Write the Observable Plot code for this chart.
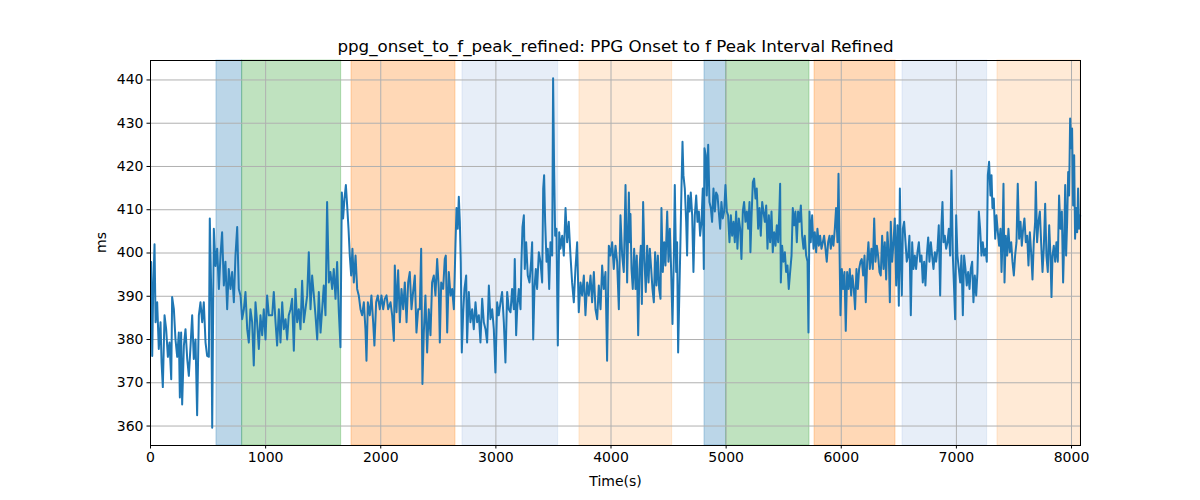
<!DOCTYPE html>
<html>
<head>
<meta charset="utf-8">
<script src="https://cdn.jsdelivr.net/npm/d3@7"></script>
<script src="https://cdn.jsdelivr.net/npm/@observablehq/plot@0.6"></script>
<style>
  html, body { margin: 0; padding: 0; background: #fff; }
  svg { display: block; }
</style>
</head>
<body>
<script>
const titleText = "ppg_onset_to_f_peak_refined: PPG Onset to f Peak Interval Refined";
const xLabel = "Time(s)";
const yLabel = "ms";
const xTicks = [0, 1000, 2000, 3000, 4000, 5000, 6000, 7000, 8000];
const yTicks = [360, 370, 380, 390, 400, 410, 420, 430, 440];

// shaded phases: start, end, colour
const spanStart = [573, 796, 1746, 2710, 3726, 4812, 5000, 5768, 6532, 7357];
const spanEnd   = [796, 1656, 2649, 3541, 4531, 5000, 5724, 6471, 7267, 8078];
const spanColor = ["#1f77b4", "#2ca02c", "#ff7f0e", "#aec7e8", "#ffbb78",
                   "#1f77b4", "#2ca02c", "#ff7f0e", "#aec7e8", "#ffbb78"];

// [time (s), interval (ms)]
const part1 = [[6,397.9],[15,376.2],[23,391],[35,402],[44,384],[58,388.6],[72,377.8],[87,384],[96,374.7],[107,369],[122,385.6],[136,382.4],[151,376],[165,379.3],[180,370.8],[188,389.8],[203,387],[217,380],[232,376],[246,381.6],[255,366.6],[266,381.6],[275,365],[290,378.6],[304,382.4],[319,375.5],[333,371.6],[348,378.6],[362,385.6],[376,375.5],[391,380],[405,362.5],[420,385.6],[434,388.6],[449,384],[463,388.6],[478,379.3],[492,376.2],[507,376],[515,408],[527,391.7],[536,359.6],[550,405.6],[565,397],[579,401],[594,391.7],[608,399.4],[622,404.8],[637,392.5],[651,398],[666,387],[680,396.3],[695,391.7],[709,395.6],[724,388.6],[738,399.4],[753,406],[767,391.7],[782,390.2],[796,384.7],[811,387],[825,391],[840,382.4],[854,379.3],[868,387],[883,384],[897,374],[912,388.6],[926,384],[941,377.8],[955,385.6],[970,381],[984,387],[999,380],[1013,390.2],[1028,385.6]];
const part2 = [[1057,385.6],[1071,391],[1086,384],[1100,378.6],[1115,387],[1129,379.3],[1144,388.6],[1158,382.4],[1173,384.7],[1187,380],[1201,385.6],[1216,387],[1230,389.4],[1245,377.4],[1259,391.7],[1274,384],[1288,387],[1303,382.4],[1317,393.6],[1332,384],[1346,387],[1361,390.2],[1375,400.2],[1390,387],[1404,394.8],[1419,390.2],[1433,385.6],[1448,380],[1462,391],[1477,381.6],[1491,387],[1505,392.5],[1520,385.6],[1534,411.8],[1549,393.2],[1563,395.6],[1578,391.7],[1592,396.3],[1607,389.4],[1621,397.9],[1636,386.3],[1650,378.2],[1662,414],[1673,408],[1685,412.6],[1697,415.7],[1708,411],[1720,405.6],[1731,399.4],[1743,394.8],[1754,401],[1766,393.2],[1781,399.4],[1795,391.7],[1809,390.2],[1824,387],[1838,385.6],[1853,388.6],[1867,382.4],[1876,375.1],[1888,388.6],[1905,385.6],[1919,390.2],[1934,384],[1945,378.6],[1960,388.6],[1974,390.2],[1992,387],[2006,390.2],[2021,387],[2035,389.4],[2050,390.2],[2064,387]];
const part3 = [[2085,388.6],[2099,385.6],[2114,379.7],[2122,397.1],[2137,386.3],[2151,396],[2166,384],[2180,391.7],[2195,387],[2209,393.2],[2224,384],[2238,393.2],[2252,395.6],[2267,387],[2281,391],[2296,394.8],[2310,381.6],[2325,387],[2339,387],[2351,401],[2362,369.7],[2374,381.6],[2388,390.2],[2403,377],[2417,387],[2432,381],[2446,393.2],[2461,394.8],[2475,390.2],[2490,398.6],[2504,391.7],[2513,379.3],[2525,393.2],[2542,391.7],[2556,398.6],[2565,399.4],[2577,381.6],[2591,395.6],[2606,390.2],[2620,391.7],[2635,387],[2649,402],[2658,410.4],[2669,405.6],[2678,413],[2687,407.2],[2695,398],[2704,377],[2716,386.3],[2727,391.7],[2742,394.8],[2750,379.3],[2765,391],[2779,384],[2794,387],[2808,382.4],[2823,388.6],[2837,384],[2852,385.6],[2866,379.3],[2881,389.4],[2895,384],[2910,382.4],[2924,379.3],[2939,392.5],[2953,384.7],[2968,387],[2982,382.4],[2996,372.4],[3011,388.6],[3025,385.6],[3040,388.6],[3054,391],[3069,384],[3083,374.7],[3098,391],[3112,387]];
const part4 = [[3127,386.3],[3141,391.7],[3156,387],[3164,398.6],[3176,381],[3185,387],[3199,391.7],[3214,387],[3222,398],[3231,406],[3243,408.7],[3251,396.3],[3263,402.5],[3277,394.8],[3292,393.2],[3306,398],[3315,402.5],[3324,380],[3335,391.7],[3347,396.3],[3358,391.7],[3373,400.2],[3387,398],[3402,393.2],[3411,414.9],[3419,418],[3428,407.2],[3440,398],[3451,401],[3463,391.7],[3474,402.5],[3489,399.4],[3497,440.4],[3506,418.7],[3515,404],[3526,405.6],[3538,378.6],[3550,404.8],[3561,401],[3576,404],[3590,399.4],[3605,410.4],[3619,402.5],[3633,407.2],[3648,399.4],[3662,393.2],[3677,388.6],[3691,396.3],[3706,402.5],[3720,386.3],[3735,393.2],[3749,390.2],[3764,394.8],[3778,385.6],[3793,393.2],[3807,390.2],[3822,394.8],[3836,388.6],[3851,395.6],[3865,387],[3880,384.7],[3894,392.5],[3909,387],[3923,397.1],[3937,391.7],[3952,395.6],[3966,375.1],[3981,401.7],[3995,399.4],[4010,402.5],[4024,396.3],[4039,401.7],[4053,398],[4068,387],[4082,408.7],[4097,399.4],[4111,395.6],[4126,415.7],[4140,393.2],[4155,414]];
const part5 = [[4163,402.5],[4169,409],[4178,396.3],[4189,391.7],[4201,401],[4213,391.7],[4224,399.4],[4236,381],[4247,396.3],[4259,401.7],[4268,388.2],[4279,411.8],[4291,398],[4302,391],[4314,401.7],[4326,393.2],[4337,401],[4349,396.3],[4360,391.7],[4372,388.6],[4383,400.2],[4395,392.5],[4407,399.4],[4418,391.7],[4430,389.4],[4438,410.4],[4450,395.6],[4462,402.5],[4473,397.1],[4488,409.6],[4499,398],[4511,405.6],[4522,396.3],[4534,383.6],[4546,399.4],[4554,415.7],[4566,395.6],[4574,402.5],[4583,377],[4595,392.5],[4603,402.5],[4612,414.9],[4621,425.7],[4629,418],[4641,414.9],[4653,407.2],[4661,399.4],[4670,413.3],[4682,409.6],[4693,414],[4705,408.7],[4716,395.6],[4728,408.7],[4740,413.3],[4751,407.2],[4763,409.6],[4774,404],[4786,407.2],[4797,414.9],[4806,396.3],[4812,424.2],[4823,422.6],[4832,413.3],[4844,425],[4855,411.8],[4867,410.4],[4878,407.2],[4890,414.9],[4902,409.6],[4913,414],[4925,413.3],[4936,409.6],[4948,405.6],[4959,411.8],[4971,408],[4983,409.6],[4994,415.7],[5006,409.6],[5017,408.7],[5029,402.5],[5041,408.7],[5052,404],[5064,407.2],[5075,402.5],[5087,409.6],[5098,401],[5110,408],[5122,405.6],[5133,398.6],[5145,409.6],[5156,411.8],[5168,407.2],[5180,409.6],[5191,405.6],[5203,411.8]];
const part6 = [[5211,400.2],[5220,408],[5232,416.4],[5243,417.2],[5255,412.6],[5266,414.9],[5278,405.6],[5290,410.4],[5301,404],[5313,411.8],[5324,409.6],[5336,407.2],[5348,411],[5359,401],[5371,408.7],[5382,402.5],[5394,409.6],[5405,400.2],[5417,404.8],[5429,401.7],[5440,406.4],[5452,402.5],[5463,410.4],[5469,416],[5475,393.2],[5486,401.7],[5498,398],[5510,400.2],[5521,395.6],[5533,397.1],[5544,391.7],[5556,395.6],[5568,399.4],[5579,410.4],[5591,406.4],[5602,409.6],[5614,402.5],[5625,409.6],[5637,407.2],[5649,411],[5660,404],[5672,401],[5683,404],[5695,399.4],[5707,398],[5715,381.6],[5724,409.6],[5735,402.5],[5747,408.7],[5759,401],[5770,404.8],[5782,400.2],[5793,405.6],[5805,401.7],[5816,404],[5828,401],[5840,402.5],[5851,404],[5863,401],[5874,398],[5886,402.5],[5898,404],[5909,401],[5921,404],[5932,401.7],[5944,405.6],[5955,410.4],[5967,402.5],[5976,418.3],[5984,402.5],[5993,385.6],[6005,396.3],[6016,391.7],[6028,395.6],[6039,382],[6051,395.6],[6063,391.7],[6074,396.3],[6086,390.2],[6097,394.8],[6109,391.7],[6120,387],[6132,396.3],[6144,391.7],[6155,396.3],[6167,398],[6178,398.6],[6190,394.8],[6202,399.4],[6213,388.6],[6225,398],[6236,402.5],[6248,396.3]];
const part7 = [[6262,401],[6274,396.3],[6286,408],[6297,398],[6309,401.7],[6320,399.4],[6332,395.6],[6343,394.8],[6355,404],[6367,396.3],[6378,402.5],[6390,393.9],[6401,404.8],[6413,399.4],[6422,388.6],[6430,407.2],[6442,398],[6454,402.5],[6465,408],[6477,392.5],[6488,406.4],[6500,387.8],[6509,414.9],[6517,399.4],[6526,390.2],[6535,405.6],[6546,407.2],[6558,402.5],[6569,398],[6581,399.4],[6592,404],[6604,385.6],[6616,402.5],[6627,396.3],[6639,399.4],[6650,396.3],[6662,400.2],[6674,402.5],[6685,398],[6697,399.4],[6708,393.2],[6720,398],[6731,392.5],[6743,399.4],[6755,403.6],[6766,398],[6778,402.5],[6789,399.4],[6801,396.3],[6813,400.2],[6824,398],[6836,401],[6847,406.4],[6859,390.2],[6870,406.4],[6879,411.8],[6888,402.5],[6899,404],[6911,401],[6923,402.5],[6934,405.6],[6946,399.4],[6957,419.1],[6969,399.4],[6980,391.7],[6989,384.7],[6998,408.7],[7009,399.4],[7021,396.3],[7033,393.2],[7044,399.4],[7056,385.6],[7067,399.4],[7079,396.3],[7090,392.5],[7102,395.6],[7114,391.7],[7125,396.3],[7137,398],[7148,388.6],[7160,394.8],[7172,390.2],[7183,395.6],[7195,409.6],[7206,405.6],[7218,399.4],[7229,402.5],[7241,399.4],[7253,401],[7264,398],[7273,418],[7284,421.1]];
const part8 = [[7296,413.3],[7305,418],[7313,410.4],[7325,412.6],[7337,403.3],[7348,408.7],[7360,404.8],[7371,401.7],[7383,405.6],[7392,395.6],[7400,402.5],[7409,416],[7418,393.2],[7429,404],[7441,399.4],[7452,405.6],[7464,400.2],[7476,402.5],[7487,398],[7499,394.8],[7510,399.4],[7522,402.5],[7533,416],[7545,403.3],[7557,407.2],[7568,401.7],[7580,405.6],[7591,408],[7603,402.5],[7615,404],[7626,397.1],[7638,404.8],[7649,400.2],[7661,393.9],[7672,402.5],[7684,407.2],[7690,416.4],[7701,402.5],[7713,407.2],[7725,409.6],[7736,402.5],[7748,395.6],[7759,401],[7771,411.4],[7782,399.4],[7794,395.6],[7806,406.4],[7817,399.4],[7826,389.8],[7835,399.4],[7846,401.7],[7858,398],[7869,402.5],[7881,398],[7892,413.3],[7904,405.6],[7916,409.6],[7927,393.2],[7936,402.5],[7945,415.7],[7953,399.4],[7962,407.2],[7971,418.7],[7979,413.3],[7988,431.1],[7997,424.2],[8005,428.8],[8014,411],[8023,422.6],[8031,403.3],[8040,410.4],[8049,404.8],[8057,414.9],[8066,405.6],[8075,408.7]];

const series = [...part1, ...part2, ...part3, ...part4, ...part5, ...part6, ...part7, ...part8]
  .map(([t, v]) => ({t, v}));
const spans = spanStart.map((s, i) => ({x1: s, x2: spanEnd[i], color: spanColor[i]}));

const chart = Plot.plot({
  width: 1200,
  height: 500,
  marginLeft: 150,
  marginRight: 120,
  marginTop: 60,
  marginBottom: 55,
  style: {fontFamily: "DejaVu Sans", fontSize: "14px", color: "#000", background: "#fff"},
  x: {domain: [0, 8078]},
  y: {domain: [355.5, 444.5]},
  marks: [
    Plot.rect(spans, {x1: "x1", x2: "x2", fill: "color", fillOpacity: 0.3, stroke: "color", strokeOpacity: 0.3, strokeWidth: 1}),
    Plot.gridX(xTicks, {stroke: "#b0b0b0", strokeOpacity: 1, strokeWidth: 1}),
    Plot.gridY(yTicks, {stroke: "#b0b0b0", strokeOpacity: 1, strokeWidth: 1}),
    Plot.line(series, {x: "t", y: "v", stroke: "#1f77b4", strokeWidth: 2}),
    Plot.frame({stroke: "#000", strokeWidth: 1}),
    Plot.axisX({ticks: xTicks, tickFormat: d3.format("d"), tickSize: 3.5, tickPadding: 3.5, fontSize: 14, label: null}),
    Plot.axisY({ticks: yTicks, tickFormat: d3.format("d"), tickSize: 3.5, tickPadding: 3.5, fontSize: 14, label: null}),
    Plot.text([titleText], {frameAnchor: "top", dy: -14, fontSize: 16.7, lineAnchor: "middle", fill: "#000"}),
    Plot.text([xLabel], {frameAnchor: "bottom", dy: 36, fontSize: 14, lineAnchor: "middle", fill: "#000"}),
    Plot.text([yLabel], {frameAnchor: "left", dx: -49, rotate: -90, fontSize: 14, lineAnchor: "middle", fill: "#000"})
  ]
});
document.body.appendChild(chart);
</script>
</body>
</html>
